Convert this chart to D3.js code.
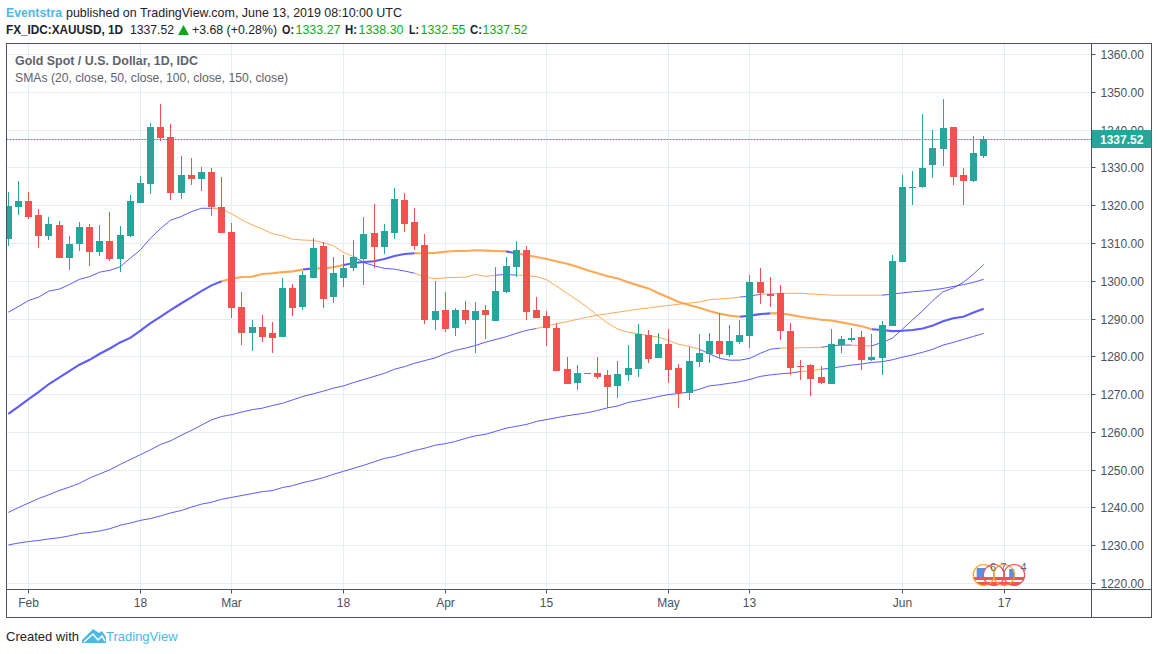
<!DOCTYPE html>
<html>
<head>
<meta charset="utf-8">
<script src="https://cdn.jsdelivr.net/npm/d3@7"></script>
<style>
  html, body { margin: 0; padding: 0; background: #fff; }
  svg { display: block; font-family: "Liberation Sans", sans-serif; }
</style>
</head>
<body>
<svg id="chart" width="1158" height="654"></svg>
<script>
// bars are trading days, index 0 = Jan 30 2019
const opens = [1311.3,1319.7,1321.3,1317.6,1312.0,1314.9,1306.2,1309.9,1314.4,1307.8,1310.7,1305.9,1312.0,1320.7,1325.8,1340.9,1338.2,1323.4,1328.2,1327.1,1329.0,1319.7,1313.0,1293.2,1286.3,1287.9,1286.3,1285.3,1298.2,1293.2,1300.9,1309.4,1295.9,1300.9,1303.5,1305.9,1312.8,1309.1,1312.8,1321.5,1315.7,1309.6,1289.8,1292.4,1287.6,1292.4,1289.8,1292.4,1289.5,1297.2,1303.8,1308.3,1292.4,1290.8,1287.6,1276.8,1273.1,1275.6,1275.7,1275.2,1272.3,1275.2,1276.8,1285.8,1279.7,1283.4,1277.0,1270.4,1278.6,1280.8,1284.2,1280.5,1283.9,1285.5,1299.8,1296.6,1296.9,1286.8,1277.6,1277.8,1274.7,1272.8,1283.1,1284.5,1285.3,1279.2,1279.7,1288.2,1305.1,1324.8,1325.0,1330.8,1335.0,1340.9,1328.2,1326.6,1333.27]
const highs = [1323.6,1326.6,1323.6,1319.1,1317.0,1316.0,1312.0,1315.7,1315.2,1314.9,1318.4,1314.7,1322.9,1327.9,1341.9,1347.0,1341.7,1333.2,1332.7,1330.3,1330.0,1327.6,1315.4,1297.2,1289.8,1291.1,1289.2,1300.9,1299.3,1302.7,1311.5,1310.4,1306.4,1307.0,1310.9,1317.0,1320.5,1315.2,1324.7,1323.4,1319.4,1312.5,1300.1,1297.2,1292.9,1294.8,1294.5,1293.7,1303.8,1306.4,1310.7,1309.4,1295.9,1292.1,1289.0,1280.0,1277.8,1275.8,1280.0,1276.5,1278.9,1283.1,1288.7,1287.1,1286.3,1287.4,1278.1,1282.6,1286.1,1286.3,1291.6,1288.4,1289.8,1301.7,1303.5,1301.1,1299.0,1289.0,1279.2,1278.1,1277.6,1287.4,1285.5,1287.6,1286.8,1286.0,1289.5,1307.0,1328.2,1329.2,1344.3,1340.0,1348.3,1340.9,1330.0,1338.5,1338.30]
const lows = [1309.4,1317.6,1316.5,1308.8,1310.9,1306.2,1303.0,1308.0,1304.0,1306.7,1305.4,1302.5,1311.7,1320.7,1323.1,1337.2,1321.5,1321.8,1325.5,1323.9,1317.3,1312.8,1290.3,1283.1,1281.6,1283.9,1281.0,1285.3,1290.8,1292.4,1300.9,1292.9,1294.3,1298.5,1302.7,1299.0,1303.5,1307.2,1311.2,1313.1,1308.3,1288.7,1287.1,1286.6,1285.5,1288.7,1281.0,1284.7,1289.5,1296.9,1301.1,1289.8,1290.3,1282.9,1276.3,1272.8,1271.2,1275.5,1274.1,1266.5,1269.1,1273.6,1274.7,1278.4,1279.7,1273.1,1266.5,1268.6,1277.3,1278.4,1279.7,1280.0,1283.4,1282.3,1294.0,1293.2,1284.5,1275.2,1273.9,1269.6,1272.8,1272.8,1281.0,1283.9,1276.5,1279.0,1275.2,1288.2,1305.1,1320.2,1324.7,1327.4,1330.5,1325.5,1320.2,1326.3,1332.55]
const closes = [1320.0,1321.3,1317.0,1312.0,1315.2,1306.2,1309.9,1314.4,1307.8,1310.7,1305.9,1312.3,1321.3,1326.0,1340.9,1338.0,1323.4,1328.2,1327.1,1329.0,1319.7,1312.8,1292.9,1286.3,1287.9,1285.3,1285.0,1298.2,1292.9,1301.7,1308.8,1295.3,1302.2,1303.5,1306.4,1312.5,1309.1,1313.3,1321.8,1315.2,1309.4,1289.8,1292.1,1287.4,1292.4,1289.8,1292.1,1291.1,1297.4,1304.1,1308.3,1291.9,1290.3,1287.6,1276.3,1272.8,1275.7,1275.7,1274.7,1272.0,1275.5,1277.0,1286.1,1279.4,1283.4,1276.5,1270.4,1278.9,1281.0,1284.2,1280.8,1284.2,1285.8,1299.8,1296.9,1296.1,1286.8,1277.0,1277.3,1274.1,1273.1,1283.4,1284.7,1285.0,1279.2,1280.0,1288.4,1305.4,1325.0,1325.0,1330.0,1335.3,1340.6,1327.6,1326.6,1334.0,1337.52]

const sma20 = [1291.8,1293.3,1294.9,1295.8,1297.4,1297.9,1299.1,1300.5,1301.2,1302.4,1302.9,1303.8,1306.1,1308.3,1311.4,1314.0,1316.2,1317.1,1318.4,1319.3,1319.3,1319.1,1317.8,1316.2,1314.9,1313.8,1312.6,1312.0,1311.1,1310.9,1310.8,1310.2,1309.4,1307.6,1306.5,1304.9,1304.1,1303.4,1303.2,1302.7,1302.1,1301.1,1300.7,1300.9,1301.0,1301.1,1301.8,1301.3,1301.6,1301.8,1301.6,1301.5,1301.2,1300.4,1298.6,1296.8,1295.0,1293.1,1290.9,1288.9,1287.3,1286.5,1286.1,1285.6,1285.2,1284.3,1283.3,1282.8,1282.0,1280.8,1279.6,1279.1,1279.1,1279.6,1280.9,1282.0,1282.3,1282.3,1282.4,1282.4,1282.5,1282.9,1283.1,1283.1,1282.9,1282.9,1283.8,1284.9,1287.3,1289.8,1292.2,1294.9,1297.2,1298.2,1299.7,1301.9,1304.4]
const sma50 = [1264.9,1266.8,1268.8,1270.7,1272.8,1274.5,1276.2,1277.9,1279.2,1280.8,1282.2,1283.8,1285.0,1286.9,1288.9,1290.6,1292.4,1294.1,1295.7,1297.4,1298.9,1300.0,1300.7,1301.1,1301.2,1301.9,1302.1,1302.4,1302.6,1303.1,1303.4,1303.4,1303.7,1304.3,1304.8,1305.1,1305.3,1305.9,1306.7,1307.2,1307.4,1307.4,1307.5,1307.8,1308.0,1308.0,1308.2,1308.1,1308.0,1307.9,1307.4,1306.9,1306.4,1305.9,1305.2,1304.6,1303.8,1302.9,1302.1,1301.3,1300.7,1299.7,1298.9,1298.1,1296.8,1295.7,1294.5,1293.7,1293.0,1292.1,1291.4,1290.9,1290.6,1290.9,1291.3,1291.5,1291.5,1291.1,1290.6,1290.2,1289.8,1289.6,1289.1,1288.6,1288.1,1287.3,1287.1,1286.8,1286.9,1287.1,1287.5,1288.3,1289.4,1290.2,1290.6,1291.7,1292.7]
const sma100 = [1238.8,1240.1,1241.3,1242.5,1243.5,1244.6,1245.5,1246.5,1247.9,1249.0,1250.1,1251.5,1252.8,1254.1,1255.4,1256.8,1257.8,1259.2,1260.5,1261.9,1263.3,1264.2,1264.7,1265.4,1266.0,1266.4,1267.1,1267.7,1268.6,1269.5,1270.2,1270.9,1271.7,1272.3,1273.2,1274.0,1274.8,1275.6,1276.7,1277.4,1278.3,1279.0,1279.7,1280.8,1281.7,1282.3,1283.0,1283.9,1284.6,1285.3,1286.2,1287.0,1287.5,1288.1,1288.8,1289.3,1289.9,1290.5,1291.0,1291.4,1291.8,1292.2,1292.6,1292.9,1293.3,1293.6,1293.9,1294.2,1294.5,1295.1,1295.3,1295.5,1295.8,1296.1,1296.5,1296.7,1296.8,1296.8,1296.8,1296.6,1296.5,1296.3,1296.3,1296.3,1296.3,1296.3,1296.3,1296.6,1296.9,1297.2,1297.4,1297.7,1298.1,1298.6,1299.1,1299.7,1300.5]
const sma150 = [1230.2,1230.7,1231.1,1231.4,1231.8,1232.1,1232.6,1233.2,1233.5,1233.9,1234.5,1235.4,1236.0,1236.7,1237.2,1237.9,1238.7,1239.3,1240.2,1241.0,1241.5,1242.3,1242.8,1243.3,1243.8,1244.3,1244.6,1245.4,1245.9,1246.7,1247.3,1248.0,1248.9,1249.7,1250.5,1251.3,1252.2,1253.1,1253.6,1254.4,1255.2,1255.8,1256.6,1257.0,1257.6,1258.4,1259.1,1259.5,1260.3,1261.1,1261.6,1262.1,1262.9,1263.4,1263.9,1264.4,1264.8,1265.2,1265.8,1266.5,1267.0,1267.9,1268.4,1268.9,1269.5,1270.0,1270.3,1270.7,1271.4,1272.3,1272.6,1273.0,1273.4,1274.0,1274.8,1275.2,1275.5,1275.7,1276.1,1276.3,1276.7,1277.0,1277.4,1277.8,1278.1,1278.5,1278.7,1279.2,1279.9,1280.5,1281.2,1282.0,1283.1,1283.8,1284.6,1285.4,1286.2]

const priceTicks = [1220,1230,1240,1250,1260,1270,1280,1290,1300,1310,1320,1330,1340,1350,1360]
const timeBars = [2,13,22,33,43,53,65,73,88,98]
const timeLabels = ['Feb','18','Mar','18','Apr','15','May','13','Jun','17']
const lastPrice = 1337.52
const eventBars = [96,97,98,99]
const eventColors = ['#ff9f2e','#f0525a','#ff9f2e','#f0525a']
const eventCounts = ['6','7','','4']

const UP = '#26a69a', DOWN = '#ef5350', AXIS = '#4c525e', GRID = '#e6eef4'
const BLUE = '#4040ff', ORANGE = '#ff9a38'
const LEFT = 6.5, RIGHT = 1091.5, TOP = 43.5, BOTTOM = 589.5, EDGE = 1151.5, FOOT = 617.5

const x = d3.scaleLinear().domain([0, 98]).range([8.3, 1004])
const y = d3.scaleLinear().domain([1220, 1360]).range([583.5, 54.5])

const svg = d3.select('#chart')

svg.append('defs').append('clipPath').attr('id', 'plot')
    .append('rect').attr('x', LEFT).attr('y', TOP)
    .attr('width', RIGHT - LEFT).attr('height', BOTTOM - TOP)

// Grid
const grid = svg.append('g').attr('stroke', GRID)
grid.selectAll('.h').data(priceTicks).enter().append('line')
    .attr('x1', LEFT).attr('x2', RIGHT)
    .attr('y1', d => Math.floor(y(d)) + 0.5).attr('y2', d => Math.floor(y(d)) + 0.5)
grid.selectAll('.v').data(timeBars).enter().append('line')
    .attr('y1', TOP).attr('y2', BOTTOM)
    .attr('x1', d => Math.floor(x(d)) + 0.5).attr('x2', d => Math.floor(x(d)) + 0.5)

const plot = svg.append('g').attr('clip-path', 'url(#plot)')

// Legend text sits over the grid
const legend = svg.append('g').attr('fill', '#5f636d').attr('font-size', 13)
legend.append('text').attr('x', 15).attr('y', 65).attr('font-weight', 700)
    .attr('textLength', 183).attr('lengthAdjust', 'spacingAndGlyphs')
    .text('Gold Spot / U.S. Dollar, 1D, IDC')
legend.append('text').attr('x', 15).attr('y', 82)
    .attr('textLength', 273).attr('lengthAdjust', 'spacingAndGlyphs')
    .text('SMAs (20, close, 50, close, 100, close, 150, close)')

// SMA lines: blue while the close is above the average, orange below it
const smaLine = d3.line().x(d => x(d.i)).y(d => y(d.v))
function drawSma(values, width, opacity) {
    let run = null
    const runs = []
    values.forEach((v, i) => {
        if(i === 0) return
        const color = closes[i] > v ? BLUE : ORANGE
        if(!run || run.color !== color) {
            run = { color, pts: [{ i: i - 1, v: values[i - 1] }] }
            runs.push(run)
        }
        run.pts.push({ i, v })
    })
    plot.append('g').selectAll('path').data(runs).enter().append('path')
        .attr('fill', 'none')
        .attr('stroke', d => d.color)
        .attr('stroke-width', width)
        .attr('stroke-opacity', opacity)
        .attr('d', d => smaLine(d.pts))
}
drawSma(sma150, 1, 0.85)
drawSma(sma100, 1, 0.85)
drawSma(sma20, 1, 0.85)
drawSma(sma50, 2.1, 0.85)

// Candles
const bars = plot.append('g').selectAll('g').data(closes).enter().append('g')
    .attr('fill', (d, i) => d >= opens[i] ? UP : DOWN)
bars.append('rect')
    .attr('x', (d, i) => Math.floor(x(i)))
    .attr('width', 1)
    .attr('y', (d, i) => Math.round(y(highs[i])))
    .attr('height', (d, i) => Math.max(1, Math.round(y(lows[i])) - Math.round(y(highs[i]))))
bars.append('rect')
    .attr('x', (d, i) => Math.floor(x(i)) - 3)
    .attr('width', 7)
    .attr('y', (d, i) => Math.round(y(Math.max(d, opens[i]))))
    .attr('height', (d, i) => Math.max(1, Math.round(y(Math.min(d, opens[i]))) - Math.round(y(Math.max(d, opens[i])))))

// Last price line
plot.append('line')
    .attr('x1', LEFT).attr('x2', RIGHT)
    .attr('y1', Math.floor(y(lastPrice)) + 0.5).attr('y2', Math.floor(y(lastPrice)) + 0.5)
    .attr('stroke', UP).attr('stroke-dasharray', '2,1')

// Event flags: faces first, then rings and counts on top
const flagX = d => `translate(${x(d)},575)`
const faces = plot.append('g').selectAll('g').data(eventBars).enter().append('g')
    .attr('transform', flagX)
faces.each(function(d, i) {
    const g = d3.select(this)
    g.append('clipPath').attr('id', 'flag' + i).append('circle').attr('r', 10.5)
    const inner = g.append('g').attr('clip-path', `url(#flag${i})`)
    inner.append('rect').attr('x', -11).attr('y', -11).attr('width', 22).attr('height', 22).attr('fill', '#fff')
    inner.append('rect').attr('x', -11).attr('y', 2).attr('width', 22).attr('height', 3).attr('fill', '#f0525a')
    inner.append('rect').attr('x', -11).attr('y', 7).attr('width', 22).attr('height', 4).attr('fill', '#f0525a')
    if(i === 0) inner.append('rect').attr('x', -7).attr('y', -7).attr('width', 10).attr('height', 9).attr('fill', '#5b8fe0')
    if(i === 3) inner.append('rect').attr('x', -5).attr('y', -6).attr('width', 5).attr('height', 8).attr('fill', '#5b8fe0')
})
plot.append('g').selectAll('circle').data(eventBars).enter().append('circle')
    .attr('transform', flagX)
    .attr('r', 10.5).attr('fill', 'none')
    .attr('stroke', (d, i) => eventColors[i]).attr('stroke-width', 1.2)
plot.append('g').selectAll('text').data(eventBars).enter().append('text')
    .attr('transform', flagX)
    .attr('x', 9.5).attr('y', -4).attr('text-anchor', 'middle')
    .attr('font-size', 11).attr('fill', '#5f636d')
    .text((d, i) => eventCounts[i])

// Axes
const priceAxis = d3.axisRight(y).tickValues(priceTicks).tickFormat(d3.format('.2f')).tickSize(4).tickPadding(5)
const gp = svg.append('g').attr('transform', `translate(${RIGHT},0)`).call(priceAxis)
const timeAxis = d3.axisBottom(x).tickValues(timeBars).tickFormat((d, i) => timeLabels[i]).tickSize(4).tickPadding(5)
const gt = svg.append('g').attr('transform', `translate(0,${BOTTOM})`).call(timeAxis)
for(const g of [gp, gt]) {
    g.select('.domain').remove()
    g.selectAll('line').attr('stroke', AXIS)
    g.selectAll('text').attr('fill', AXIS).attr('font-family', '"Liberation Sans", sans-serif').attr('font-size', 12)
}
gp.selectAll('.tick').attr('transform', d => `translate(0,${Math.floor(y(d)) + 0.5})`)
gp.selectAll('text').attr('y', 1)
gt.selectAll('.tick').attr('transform', d => `translate(${Math.floor(x(d)) + 0.5},0)`)

// Frame
svg.append('rect').attr('x', LEFT).attr('y', TOP).attr('width', EDGE - LEFT).attr('height', FOOT - TOP)
    .attr('fill', 'none').attr('stroke', AXIS)
svg.append('line').attr('x1', RIGHT).attr('x2', RIGHT).attr('y1', TOP).attr('y2', FOOT).attr('stroke', AXIS)
svg.append('line').attr('x1', LEFT).attr('x2', EDGE).attr('y1', BOTTOM).attr('y2', BOTTOM).attr('stroke', AXIS)

// Last price label
svg.append('rect').attr('x', RIGHT + 0.5).attr('y', 130).attr('width', EDGE - RIGHT - 0.5).attr('height', 18).attr('fill', UP)
svg.append('text').attr('x', 1100).attr('y', 143.5).attr('fill', '#fff')
    .attr('font-size', 12).attr('font-weight', 700).text(d3.format('.2f')(lastPrice))

// Header
const BRAND = '#4db8e8', VALUE = '#11a821', INK = '#20232b'
const topX = [6, 66]
const topLen = [56, 336]
const topText = ['Eventstra', 'published on TradingView.com, June 13, 2019 08:10:00 UTC']
svg.append('g').selectAll('text').data(topText).enter().append('text')
    .attr('x', (d, i) => topX[i]).attr('y', 17).attr('font-size', 13)
    .attr('textLength', (d, i) => topLen[i]).attr('lengthAdjust', 'spacingAndGlyphs')
    .attr('font-weight', (d, i) => i === 0 ? 700 : 400)
    .attr('fill', (d, i) => i === 0 ? BRAND : INK)
    .text(d => d)

const headX = [6, 130, 192, 282, 295.5, 345, 358.5, 409, 420.5, 470, 482.5]
const headLen = [117, 44, 85, 12, 45, 12, 45, 10, 45, 12, 45]
const headText = ['FX_IDC:XAUUSD, 1D', '1337.52', '+3.68 (+0.28%)', 'O:', '1333.27', 'H:', '1338.30', 'L:', '1332.55', 'C:', '1337.52']
const headStyle = ['b', 'n', 'n', 'b', 'v', 'b', 'v', 'b', 'v', 'b', 'v']
svg.append('g').selectAll('text').data(headText).enter().append('text')
    .attr('x', (d, i) => headX[i]).attr('y', 34)
    .attr('font-size', (d, i) => i === 0 ? 12 : 13)
    .attr('textLength', (d, i) => headLen[i]).attr('lengthAdjust', 'spacingAndGlyphs')
    .attr('font-weight', (d, i) => headStyle[i] === 'b' ? 700 : 400)
    .attr('fill', (d, i) => headStyle[i] === 'v' ? VALUE : INK)
    .text(d => d)
svg.append('path').attr('d', 'M178 35L183.5 25L189 35Z').attr('fill', '#0ca81a')

// Footer
svg.append('text').attr('x', 6).attr('y', 641).attr('font-size', 13).attr('fill', INK).text('Created with')
svg.append('text').attr('x', 106).attr('y', 641).attr('font-size', 13).attr('fill', BRAND).text('TradingView')
svg.append('path').attr('d', 'M82 640L93 629L99 633L102 631L106 637L106 643L82 643Z').attr('fill', BRAND)
svg.append('path').attr('d', 'M84 642L93 634L98 640L102 636L105 641').attr('fill', 'none').attr('stroke', '#fff').attr('stroke-width', 1.5)
</script>
</body>
</html>
